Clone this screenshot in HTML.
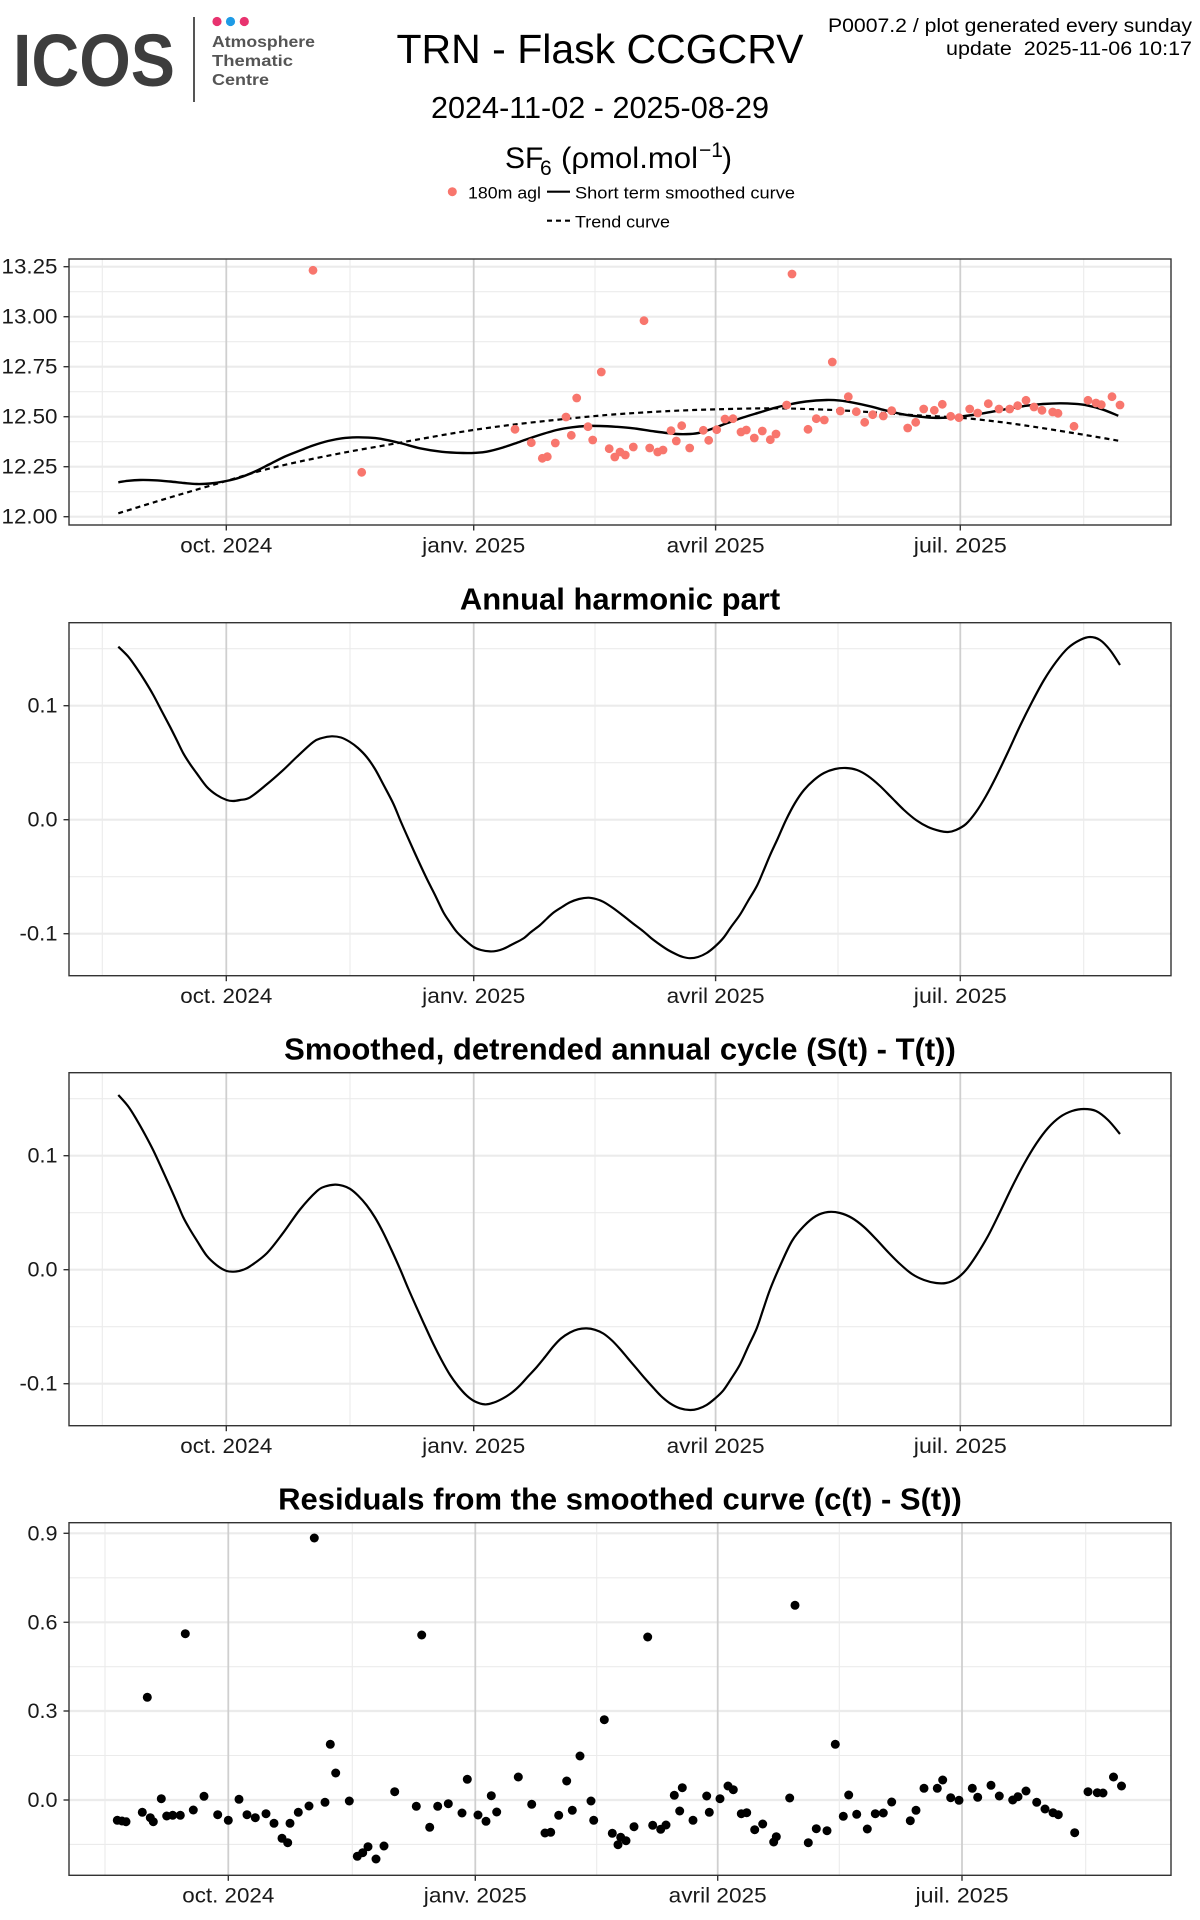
<!DOCTYPE html>
<html><head><meta charset="utf-8"><style>
html,body{margin:0;padding:0;background:#fff;}
svg{display:block;}
text{font-family:"Liberation Sans",Arial,sans-serif;}
</style></head><body>
<svg id="chart" width="1200" height="1920" viewBox="0 0 1200 1920" xmlns="http://www.w3.org/2000/svg">
<rect width="1200" height="1920" fill="#fff"/>
<!-- Header logo -->
<text x="13" y="86" font-size="74" font-weight="bold" fill="#3d3d3d" textLength="162" lengthAdjust="spacingAndGlyphs">ICOS</text>
<line x1="194" y1="17" x2="194" y2="102" stroke="#555" stroke-width="2"/>
<circle cx="217" cy="21.5" r="4.6" fill="#e8336f"/>
<circle cx="230.5" cy="21.5" r="4.6" fill="#1e9be6"/>
<circle cx="244.3" cy="21.5" r="4.6" fill="#e8336f"/>
<text x="212" y="47" font-size="16" font-weight="bold" fill="#555" textLength="103" lengthAdjust="spacingAndGlyphs">Atmosphere</text>
<text x="212" y="66" font-size="16" font-weight="bold" fill="#555" textLength="81" lengthAdjust="spacingAndGlyphs">Thematic</text>
<text x="212" y="85" font-size="16" font-weight="bold" fill="#555" textLength="57" lengthAdjust="spacingAndGlyphs">Centre</text>
<!-- Titles -->
<text x="600" y="63" font-size="41" text-anchor="middle" fill="#000" textLength="407" lengthAdjust="spacingAndGlyphs">TRN - Flask CCGCRV</text>
<text x="600" y="118" font-size="31" text-anchor="middle" fill="#000" textLength="338" lengthAdjust="spacingAndGlyphs">2024-11-02 - 2025-08-29</text>
<text x="505" y="168" font-size="30" fill="#000">SF</text>
<text x="540" y="175" font-size="21" fill="#000">6</text>
<text x="561" y="168" font-size="30" fill="#000" textLength="137" lengthAdjust="spacingAndGlyphs">(ρmol.mol</text>
<text x="699" y="157" font-size="21" fill="#000">−1</text>
<text x="722" y="168" font-size="30" fill="#000">)</text>
<text x="1192" y="32" font-size="19" text-anchor="end" fill="#000" textLength="364" lengthAdjust="spacingAndGlyphs">P0007.2 / plot generated every sunday</text>
<text x="1192" y="55" font-size="19" text-anchor="end" fill="#000" textLength="246" lengthAdjust="spacingAndGlyphs" xml:space="preserve">update  2025-11-06 10:17</text>
<!-- Legend -->
<circle cx="452.3" cy="191.7" r="4.5" fill="#F8766D"/>
<text x="468" y="198.3" font-size="17" fill="#000" textLength="73" lengthAdjust="spacingAndGlyphs">180m agl</text>
<line x1="547" y1="191.7" x2="570" y2="191.7" stroke="#000" stroke-width="2.2"/>
<text x="575" y="198.3" font-size="17" fill="#000" textLength="220" lengthAdjust="spacingAndGlyphs">Short term smoothed curve</text>
<line x1="547" y1="220.7" x2="570" y2="220.7" stroke="#000" stroke-width="2.2" stroke-dasharray="5 4"/>
<text x="575" y="227.5" font-size="17" fill="#000" textLength="95" lengthAdjust="spacingAndGlyphs">Trend curve</text>

<!-- ============ PANEL 1 ============ -->
<g>
<rect x="69" y="259" width="1102" height="266" fill="#fff"/>
<g stroke="#ebebeb" stroke-width="1.1">
<line x1="69" x2="1171" y1="491.7" y2="491.7"/><line x1="69" x2="1171" y1="441.7" y2="441.7"/><line x1="69" x2="1171" y1="391.7" y2="391.7"/><line x1="69" x2="1171" y1="341.7" y2="341.7"/><line x1="69" x2="1171" y1="291.7" y2="291.7"/>
<line x1="102.3" x2="102.3" y1="259" y2="525"/><line x1="350" x2="350" y1="259" y2="525"/><line x1="595" x2="595" y1="259" y2="525"/><line x1="838" x2="838" y1="259" y2="525"/><line x1="1083.7" x2="1083.7" y1="259" y2="525"/>
</g>
<g stroke="#ebebeb" stroke-width="2.2">
<line x1="69" x2="1171" y1="516.7" y2="516.7"/><line x1="69" x2="1171" y1="466.7" y2="466.7"/><line x1="69" x2="1171" y1="416.7" y2="416.7"/><line x1="69" x2="1171" y1="366.7" y2="366.7"/><line x1="69" x2="1171" y1="316.7" y2="316.7"/><line x1="69" x2="1171" y1="266.7" y2="266.7"/>
</g>
<g stroke="#cfcfcf" stroke-width="1.8">
<line x1="226.3" x2="226.3" y1="259" y2="525"/><line x1="473.7" x2="473.7" y1="259" y2="525"/><line x1="715.6" x2="715.6" y1="259" y2="525"/><line x1="960.3" x2="960.3" y1="259" y2="525"/>
</g>
<polyline class="smooth" fill="none" stroke="#000" stroke-width="2.2" stroke-dasharray="5 4" points="118.3,513.3 150,503.5 180,494.5 226.3,481 260,471 300,461.5 350,451.5 400,442.7 440,435.5 473.3,430 510,425 550,420.5 590,416.5 620,414 670,411 716.7,409.3 766.7,408.3 800,408.8 833.3,410 860,411.5 886.7,413.3 920,415.5 960,417.7 1000,422 1033.3,426.7 1070,432.5 1100,437.5 1118.3,440.7"/>
<polyline class="smooth" fill="none" stroke="#000" stroke-width="2.4" stroke-linejoin="round" points="118.3,482.3 128,480.8 140,480 155,480.3 170,481.5 184,483 196.7,484 210,483.5 226.3,481 240,477.5 255,471.5 270,464 285,456.5 300,450.5 313,445.5 328,441 342,438.3 356.7,437.3 368,437.6 380,438.7 400,443 420,448.3 442,451.8 463.3,453 476,452.8 486.7,451.7 503,447.5 520,441.7 538,435.5 556.7,430 572,427.3 586.7,426 600,426 616,426.8 633.3,428.3 655,431.5 676.7,434 690,434 700,432.7 713,428.5 726.7,423.3 743,417.5 760,412.3 773,408.3 786.7,405 806,401.5 826.7,400 840,400.6 853.3,402.7 870,406.3 886.7,410.7 903,414.3 920,416.7 933,417.8 946.7,417.7 965,416 983.3,413.3 1005,409.3 1026.7,405.7 1043,404 1060,403.3 1074,403.8 1086.7,405.3 1102,409.3 1118.3,415.7"/>
<g fill="#F8766D">
<circle cx="313" cy="270.3" r="4.4"/><circle cx="361.7" cy="472.3" r="4.4"/><circle cx="515" cy="429.3" r="4.4"/><circle cx="531.3" cy="442.7" r="4.4"/><circle cx="542.3" cy="458.3" r="4.4"/><circle cx="547.3" cy="456.7" r="4.4"/><circle cx="555.3" cy="443" r="4.4"/><circle cx="566" cy="417" r="4.4"/><circle cx="571.3" cy="435.3" r="4.4"/><circle cx="576.7" cy="398" r="4.4"/><circle cx="588" cy="426.7" r="4.4"/><circle cx="592.7" cy="440" r="4.4"/><circle cx="601.3" cy="372" r="4.4"/><circle cx="609.2" cy="448.7" r="4.4"/><circle cx="614.8" cy="457" r="4.4"/><circle cx="620" cy="452" r="4.4"/><circle cx="625.3" cy="455" r="4.4"/><circle cx="633.3" cy="447" r="4.4"/><circle cx="644" cy="320.7" r="4.4"/><circle cx="649.7" cy="448" r="4.4"/><circle cx="657.7" cy="452" r="4.4"/><circle cx="663" cy="450" r="4.4"/><circle cx="671" cy="430.7" r="4.4"/><circle cx="676.3" cy="441" r="4.4"/><circle cx="681.7" cy="425.7" r="4.4"/><circle cx="689.7" cy="448" r="4.4"/><circle cx="703.3" cy="430.3" r="4.4"/><circle cx="708.7" cy="440.3" r="4.4"/><circle cx="716.7" cy="429.7" r="4.4"/><circle cx="725" cy="419" r="4.4"/><circle cx="733" cy="418.7" r="4.4"/><circle cx="741" cy="432" r="4.4"/><circle cx="746.3" cy="430" r="4.4"/><circle cx="754.3" cy="438" r="4.4"/><circle cx="762.3" cy="431" r="4.4"/><circle cx="770.3" cy="439.7" r="4.4"/><circle cx="776" cy="434" r="4.4"/><circle cx="786.7" cy="405" r="4.4"/><circle cx="792" cy="274" r="4.4"/><circle cx="808" cy="429.3" r="4.4"/><circle cx="816.3" cy="418.7" r="4.4"/><circle cx="824.3" cy="420" r="4.4"/><circle cx="832.3" cy="362" r="4.4"/><circle cx="840.3" cy="411" r="4.4"/><circle cx="848.3" cy="396.7" r="4.4"/><circle cx="856.3" cy="411.7" r="4.4"/><circle cx="864.7" cy="422.3" r="4.4"/><circle cx="872.7" cy="414.7" r="4.4"/><circle cx="883.3" cy="416" r="4.4"/><circle cx="891.7" cy="410.7" r="4.4"/><circle cx="907.7" cy="428" r="4.4"/><circle cx="915.7" cy="422.3" r="4.4"/><circle cx="923.7" cy="409" r="4.4"/><circle cx="934.3" cy="410.3" r="4.4"/><circle cx="942.3" cy="404.3" r="4.4"/><circle cx="950.7" cy="416.3" r="4.4"/><circle cx="959" cy="417.7" r="4.4"/><circle cx="969.7" cy="409" r="4.4"/><circle cx="977.7" cy="413" r="4.4"/><circle cx="988.3" cy="403.7" r="4.4"/><circle cx="999" cy="409" r="4.4"/><circle cx="1009.7" cy="409" r="4.4"/><circle cx="1017.7" cy="405.7" r="4.4"/><circle cx="1026" cy="400.3" r="4.4"/><circle cx="1034" cy="407" r="4.4"/><circle cx="1042" cy="410.3" r="4.4"/><circle cx="1052.7" cy="412" r="4.4"/><circle cx="1058" cy="413.3" r="4.4"/><circle cx="1074" cy="426.3" r="4.4"/><circle cx="1088" cy="400.3" r="4.4"/><circle cx="1096" cy="403" r="4.4"/><circle cx="1101.3" cy="404.7" r="4.4"/><circle cx="1112" cy="396.7" r="4.4"/><circle cx="1120" cy="405" r="4.4"/>
</g>
<rect x="69" y="259" width="1102" height="266" fill="none" stroke="#333" stroke-width="1.4"/>
<g stroke="#333" stroke-width="1.4">
<line x1="63.5" x2="69" y1="516.7" y2="516.7"/><line x1="63.5" x2="69" y1="466.7" y2="466.7"/><line x1="63.5" x2="69" y1="416.7" y2="416.7"/><line x1="63.5" x2="69" y1="366.7" y2="366.7"/><line x1="63.5" x2="69" y1="316.7" y2="316.7"/><line x1="63.5" x2="69" y1="266.7" y2="266.7"/>
<line x1="226.3" x2="226.3" y1="525" y2="530.5"/><line x1="473.7" x2="473.7" y1="525" y2="530.5"/><line x1="715.6" x2="715.6" y1="525" y2="530.5"/><line x1="960.3" x2="960.3" y1="525" y2="530.5"/>
</g>
<g font-size="21" fill="#1a1a1a" text-anchor="end">
<text x="57.5" y="523.7" textLength="56" lengthAdjust="spacingAndGlyphs">12.00</text><text x="57.5" y="473.7" textLength="56" lengthAdjust="spacingAndGlyphs">12.25</text><text x="57.5" y="423.7" textLength="56" lengthAdjust="spacingAndGlyphs">12.50</text><text x="57.5" y="373.7" textLength="56" lengthAdjust="spacingAndGlyphs">12.75</text><text x="57.5" y="323.7" textLength="56" lengthAdjust="spacingAndGlyphs">13.00</text><text x="57.5" y="273.7" textLength="56" lengthAdjust="spacingAndGlyphs">13.25</text>
</g>
<g font-size="21" fill="#1a1a1a" text-anchor="middle">
<text x="226.3" y="552.5" textLength="92" lengthAdjust="spacingAndGlyphs">oct. 2024</text><text x="473.7" y="552.5" textLength="103" lengthAdjust="spacingAndGlyphs">janv. 2025</text><text x="715.6" y="552.5" textLength="98" lengthAdjust="spacingAndGlyphs">avril 2025</text><text x="960.3" y="552.5" textLength="93" lengthAdjust="spacingAndGlyphs">juil. 2025</text>
</g>
</g>

<!-- ============ PANEL 2 ============ -->
<text x="620" y="609.5" font-size="31" font-weight="bold" text-anchor="middle" fill="#000">Annual harmonic part</text>
<g>
<g stroke="#ebebeb" stroke-width="1.1">
<line x1="69" x2="1171" y1="648.7" y2="648.7"/><line x1="69" x2="1171" y1="762.7" y2="762.7"/><line x1="69" x2="1171" y1="876.7" y2="876.7"/>
<line x1="102.3" x2="102.3" y1="622.7" y2="975.7"/><line x1="350" x2="350" y1="622.7" y2="975.7"/><line x1="595" x2="595" y1="622.7" y2="975.7"/><line x1="838" x2="838" y1="622.7" y2="975.7"/><line x1="1083.7" x2="1083.7" y1="622.7" y2="975.7"/>
</g>
<g stroke="#ebebeb" stroke-width="2.2">
<line x1="69" x2="1171" y1="705.7" y2="705.7"/><line x1="69" x2="1171" y1="819.7" y2="819.7"/><line x1="69" x2="1171" y1="933.7" y2="933.7"/>
</g>
<g stroke="#cfcfcf" stroke-width="1.8">
<line x1="226.3" x2="226.3" y1="622.7" y2="975.7"/><line x1="473.7" x2="473.7" y1="622.7" y2="975.7"/><line x1="715.6" x2="715.6" y1="622.7" y2="975.7"/><line x1="960.3" x2="960.3" y1="622.7" y2="975.7"/>
</g>
<polyline class="smooth" fill="none" stroke="#000" stroke-width="2.2" stroke-linejoin="round" points="118.3,646.7 128.3,656.7 136.7,668.3 145,681 153.3,695 161.7,711 170,726.7 176.7,740 183.3,753.3 190,764 196.7,773.3 206.7,786.7 216.7,795 226.7,800 233,801 240,800 250,797.4 266.7,784.4 283.3,769.9 296.7,757 313.3,742 322,738 331.7,736.3 341,737.5 350,742 358,748 366.7,757 375,769 383.3,784.4 393.3,803.6 401,822 410,842.3 418,860 426.7,878.5 435,895 443.3,912.1 450,922.5 456.7,931.8 465,940 473.3,946.8 481,950 490,951.4 497,950.8 503.3,948.9 513,944 523.3,938.5 531,932 540,925.1 547,918.5 553.3,912.7 562,907 570,902.3 579,899 588.3,897.7 596,899 603.3,901.8 613,908 623.3,915.8 633,923.5 643.3,931.3 651,938 660,944.7 668,950 676.7,954.5 683,957 690,958.2 698,957 706.7,953 715,946.5 723.3,938 731,927 740,914.7 748,901 756.7,886.3 763,872 770,855.3 778,838 786,820 795,803 804,790 814,780 824,773 835,769 846,768 857,770 868,776 880,786 892,798 904,810 916,820 928,827 940,831 948,832 956,830 966,824 976,812 986,796 996,777 1008,752 1020,726 1032,702 1044,680 1056,662 1068,648 1080,640 1090,637 1100,640 1110,650 1120,665"/>
<rect x="69" y="622.7" width="1102" height="353" fill="none" stroke="#333" stroke-width="1.4"/>
<g stroke="#333" stroke-width="1.4">
<line x1="63.5" x2="69" y1="705.7" y2="705.7"/><line x1="63.5" x2="69" y1="819.7" y2="819.7"/><line x1="63.5" x2="69" y1="933.7" y2="933.7"/>
<line x1="226.3" x2="226.3" y1="975.7" y2="981.2"/><line x1="473.7" x2="473.7" y1="975.7" y2="981.2"/><line x1="715.6" x2="715.6" y1="975.7" y2="981.2"/><line x1="960.3" x2="960.3" y1="975.7" y2="981.2"/>
</g>
<g font-size="21" fill="#1a1a1a" text-anchor="end">
<text x="57.5" y="712.7" textLength="30" lengthAdjust="spacingAndGlyphs">0.1</text><text x="57.5" y="826.7" textLength="30" lengthAdjust="spacingAndGlyphs">0.0</text><text x="57.5" y="940.7" textLength="38" lengthAdjust="spacingAndGlyphs">-0.1</text>
</g>
<g font-size="21" fill="#1a1a1a" text-anchor="middle">
<text x="226.3" y="1003" textLength="92" lengthAdjust="spacingAndGlyphs">oct. 2024</text><text x="473.7" y="1003" textLength="103" lengthAdjust="spacingAndGlyphs">janv. 2025</text><text x="715.6" y="1003" textLength="98" lengthAdjust="spacingAndGlyphs">avril 2025</text><text x="960.3" y="1003" textLength="93" lengthAdjust="spacingAndGlyphs">juil. 2025</text>
</g>
</g>

<!-- ============ PANEL 3 ============ -->
<text x="620" y="1059.5" font-size="31" font-weight="bold" text-anchor="middle" fill="#000">Smoothed, detrended annual cycle (S(t) - T(t))</text>
<g>
<g stroke="#ebebeb" stroke-width="1.1">
<line x1="69" x2="1171" y1="1098.7" y2="1098.7"/><line x1="69" x2="1171" y1="1212.7" y2="1212.7"/><line x1="69" x2="1171" y1="1326.7" y2="1326.7"/>
<line x1="102.3" x2="102.3" y1="1072.7" y2="1425.7"/><line x1="350" x2="350" y1="1072.7" y2="1425.7"/><line x1="595" x2="595" y1="1072.7" y2="1425.7"/><line x1="838" x2="838" y1="1072.7" y2="1425.7"/><line x1="1083.7" x2="1083.7" y1="1072.7" y2="1425.7"/>
</g>
<g stroke="#ebebeb" stroke-width="2.2">
<line x1="69" x2="1171" y1="1155.7" y2="1155.7"/><line x1="69" x2="1171" y1="1269.7" y2="1269.7"/><line x1="69" x2="1171" y1="1383.7" y2="1383.7"/>
</g>
<g stroke="#cfcfcf" stroke-width="1.8">
<line x1="226.3" x2="226.3" y1="1072.7" y2="1425.7"/><line x1="473.7" x2="473.7" y1="1072.7" y2="1425.7"/><line x1="715.6" x2="715.6" y1="1072.7" y2="1425.7"/><line x1="960.3" x2="960.3" y1="1072.7" y2="1425.7"/>
</g>
<polyline class="smooth" fill="none" stroke="#000" stroke-width="2.2" stroke-linejoin="round" points="118.3,1095 128.3,1106.5 136.7,1119.8 145,1134.5 153.3,1150.4 161.7,1168.5 170,1186.8 176.7,1202 183.3,1217.4 190,1229.5 196.7,1240.3 206.7,1255.7 216.7,1265.2 226.7,1271 236,1271.5 243,1269.8 250,1266.3 266.7,1253.4 283.3,1232.7 300,1209.5 316.7,1191.3 325,1186.5 335,1184.6 343,1185.8 350,1188.8 358,1195.5 366.7,1205.3 375,1217.5 383.3,1232.7 391.5,1250 400,1268.9 408,1288 416.7,1307.7 425,1326 433.3,1343.9 441.5,1360 450,1374.9 458,1386 466.7,1395.6 475,1401.5 485,1404.4 494,1402.5 503.3,1398.2 512,1392.5 520,1385.3 528,1376.5 536.7,1367.1 545,1357 553.3,1346.5 561,1338.5 570,1332.5 578,1329.3 586.7,1328.4 595,1329.8 603.3,1333.5 612,1340.5 620,1349 628,1358.5 636.7,1368.7 645,1378.5 653.3,1387.8 661,1396 670,1403.3 680,1408.3 690,1410 698,1408.8 706.7,1404.9 715,1398.5 723.3,1390.4 731,1379 740,1364.5 748,1347 756.7,1328.4 763,1310 770,1289.6 780,1266 792,1241 804,1226 816,1216 828,1212 840,1213 852,1218 864,1227 876,1239 888,1252 900,1264 912,1274 924,1280 936,1283 946,1283 956,1279 966,1270 976,1256 988,1236 1000,1212 1012,1187 1024,1164 1036,1144 1048,1128 1060,1117 1072,1111 1084,1109 1096,1111 1108,1120 1120,1134"/>
<rect x="69" y="1072.7" width="1102" height="353" fill="none" stroke="#333" stroke-width="1.4"/>
<g stroke="#333" stroke-width="1.4">
<line x1="63.5" x2="69" y1="1155.7" y2="1155.7"/><line x1="63.5" x2="69" y1="1269.7" y2="1269.7"/><line x1="63.5" x2="69" y1="1383.7" y2="1383.7"/>
<line x1="226.3" x2="226.3" y1="1425.7" y2="1431.2"/><line x1="473.7" x2="473.7" y1="1425.7" y2="1431.2"/><line x1="715.6" x2="715.6" y1="1425.7" y2="1431.2"/><line x1="960.3" x2="960.3" y1="1425.7" y2="1431.2"/>
</g>
<g font-size="21" fill="#1a1a1a" text-anchor="end">
<text x="57.5" y="1162.7" textLength="30" lengthAdjust="spacingAndGlyphs">0.1</text><text x="57.5" y="1276.7" textLength="30" lengthAdjust="spacingAndGlyphs">0.0</text><text x="57.5" y="1390.7" textLength="38" lengthAdjust="spacingAndGlyphs">-0.1</text>
</g>
<g font-size="21" fill="#1a1a1a" text-anchor="middle">
<text x="226.3" y="1453" textLength="92" lengthAdjust="spacingAndGlyphs">oct. 2024</text><text x="473.7" y="1453" textLength="103" lengthAdjust="spacingAndGlyphs">janv. 2025</text><text x="715.6" y="1453" textLength="98" lengthAdjust="spacingAndGlyphs">avril 2025</text><text x="960.3" y="1453" textLength="93" lengthAdjust="spacingAndGlyphs">juil. 2025</text>
</g>
</g>

<!-- ============ PANEL 4 ============ -->
<text x="620" y="1509.5" font-size="31" font-weight="bold" text-anchor="middle" fill="#000">Residuals from the smoothed curve (c(t) - S(t))</text>
<g>
<g stroke="#ebebeb" stroke-width="1.1">
<line x1="69" x2="1171" y1="1577.8" y2="1577.8"/><line x1="69" x2="1171" y1="1666.7" y2="1666.7"/><line x1="69" x2="1171" y1="1755.5" y2="1755.5"/><line x1="69" x2="1171" y1="1844.4" y2="1844.4"/>
<line x1="105" x2="105" y1="1522.7" y2="1875.3"/><line x1="352.3" x2="352.3" y1="1522.7" y2="1875.3"/><line x1="596.7" x2="596.7" y1="1522.7" y2="1875.3"/><line x1="839.3" x2="839.3" y1="1522.7" y2="1875.3"/><line x1="1085.7" x2="1085.7" y1="1522.7" y2="1875.3"/>
</g>
<g stroke="#ebebeb" stroke-width="2.2">
<line x1="69" x2="1171" y1="1533.3" y2="1533.3"/><line x1="69" x2="1171" y1="1622.3" y2="1622.3"/><line x1="69" x2="1171" y1="1711" y2="1711"/><line x1="69" x2="1171" y1="1800" y2="1800"/>
</g>
<g stroke="#cfcfcf" stroke-width="1.8">
<line x1="228.3" x2="228.3" y1="1522.7" y2="1875.3"/><line x1="475.3" x2="475.3" y1="1522.7" y2="1875.3"/><line x1="717.7" x2="717.7" y1="1522.7" y2="1875.3"/><line x1="962" x2="962" y1="1522.7" y2="1875.3"/>
</g>
<g fill="#000">
<circle cx="117.3" cy="1820.3" r="4.5"/><circle cx="122" cy="1821" r="4.5"/><circle cx="126" cy="1821.7" r="4.5"/><circle cx="142.3" cy="1812.3" r="4.5"/><circle cx="147.3" cy="1697.3" r="4.5"/><circle cx="150.3" cy="1817.7" r="4.5"/><circle cx="153.3" cy="1821.7" r="4.5"/><circle cx="161.3" cy="1798.7" r="4.5"/><circle cx="166.7" cy="1816" r="4.5"/><circle cx="172.7" cy="1815.3" r="4.5"/><circle cx="180.3" cy="1815.3" r="4.5"/><circle cx="185.3" cy="1633.7" r="4.5"/><circle cx="193.3" cy="1810" r="4.5"/><circle cx="204" cy="1796.3" r="4.5"/><circle cx="217.7" cy="1814.7" r="4.5"/><circle cx="228.3" cy="1820.3" r="4.5"/><circle cx="239" cy="1799.3" r="4.5"/><circle cx="247" cy="1814.7" r="4.5"/><circle cx="255.3" cy="1817.7" r="4.5"/><circle cx="266" cy="1813.7" r="4.5"/><circle cx="274" cy="1823.3" r="4.5"/><circle cx="282" cy="1838.3" r="4.5"/><circle cx="287.7" cy="1842.7" r="4.5"/><circle cx="290" cy="1823.3" r="4.5"/><circle cx="298.3" cy="1812.3" r="4.5"/><circle cx="309" cy="1806" r="4.5"/><circle cx="314.3" cy="1538" r="4.5"/><circle cx="325" cy="1802.3" r="4.5"/><circle cx="330.3" cy="1744.3" r="4.5"/><circle cx="335.7" cy="1773" r="4.5"/><circle cx="349.3" cy="1801" r="4.5"/><circle cx="357.3" cy="1856.3" r="4.5"/><circle cx="362.7" cy="1852.7" r="4.5"/><circle cx="368" cy="1846.7" r="4.5"/><circle cx="376" cy="1859" r="4.5"/><circle cx="384" cy="1846" r="4.5"/><circle cx="394.7" cy="1791.7" r="4.5"/><circle cx="416.3" cy="1806.3" r="4.5"/><circle cx="421.7" cy="1635" r="4.5"/><circle cx="429.7" cy="1827.3" r="4.5"/><circle cx="437.7" cy="1806.3" r="4.5"/><circle cx="448.3" cy="1803.7" r="4.5"/><circle cx="462" cy="1813" r="4.5"/><circle cx="467.3" cy="1779.3" r="4.5"/><circle cx="478" cy="1815" r="4.5"/><circle cx="486" cy="1821.3" r="4.5"/><circle cx="491.3" cy="1795.7" r="4.5"/><circle cx="496.7" cy="1812" r="4.5"/><circle cx="518.3" cy="1777" r="4.5"/><circle cx="531.7" cy="1804.3" r="4.5"/><circle cx="545" cy="1833" r="4.5"/><circle cx="550.7" cy="1832.3" r="4.5"/><circle cx="558.7" cy="1815.3" r="4.5"/><circle cx="566.7" cy="1781" r="4.5"/><circle cx="572.3" cy="1810.3" r="4.5"/><circle cx="580" cy="1756" r="4.5"/><circle cx="591" cy="1801" r="4.5"/><circle cx="593.7" cy="1820.3" r="4.5"/><circle cx="604.3" cy="1719.7" r="4.5"/><circle cx="612.3" cy="1833.3" r="4.5"/><circle cx="618" cy="1844.7" r="4.5"/><circle cx="620.7" cy="1837.3" r="4.5"/><circle cx="626" cy="1840.7" r="4.5"/><circle cx="634" cy="1826.7" r="4.5"/><circle cx="647.7" cy="1637" r="4.5"/><circle cx="652.7" cy="1825.3" r="4.5"/><circle cx="660.7" cy="1829.3" r="4.5"/><circle cx="666" cy="1825" r="4.5"/><circle cx="674.3" cy="1795.3" r="4.5"/><circle cx="679.7" cy="1811" r="4.5"/><circle cx="682.3" cy="1787.7" r="4.5"/><circle cx="693" cy="1820.3" r="4.5"/><circle cx="706.7" cy="1796" r="4.5"/><circle cx="709.3" cy="1812.3" r="4.5"/><circle cx="720" cy="1798.7" r="4.5"/><circle cx="728" cy="1786" r="4.5"/><circle cx="733.3" cy="1789.7" r="4.5"/><circle cx="741.3" cy="1813.7" r="4.5"/><circle cx="746.7" cy="1812.7" r="4.5"/><circle cx="754.7" cy="1829.7" r="4.5"/><circle cx="762.7" cy="1824" r="4.5"/><circle cx="773.7" cy="1842" r="4.5"/><circle cx="776.3" cy="1836.7" r="4.5"/><circle cx="789.7" cy="1798" r="4.5"/><circle cx="795" cy="1605.3" r="4.5"/><circle cx="808.3" cy="1842.7" r="4.5"/><circle cx="816.3" cy="1828.7" r="4.5"/><circle cx="827" cy="1830.7" r="4.5"/><circle cx="835.3" cy="1744.3" r="4.5"/><circle cx="843.3" cy="1816.3" r="4.5"/><circle cx="848.7" cy="1795" r="4.5"/><circle cx="856.7" cy="1814.3" r="4.5"/><circle cx="867.3" cy="1829" r="4.5"/><circle cx="875.3" cy="1813.7" r="4.5"/><circle cx="883.3" cy="1813" r="4.5"/><circle cx="891.7" cy="1802" r="4.5"/><circle cx="910.3" cy="1820.7" r="4.5"/><circle cx="916" cy="1810.3" r="4.5"/><circle cx="924" cy="1788.3" r="4.5"/><circle cx="937.3" cy="1788.3" r="4.5"/><circle cx="942.7" cy="1780" r="4.5"/><circle cx="950.7" cy="1797.7" r="4.5"/><circle cx="959" cy="1800.3" r="4.5"/><circle cx="972.3" cy="1788.3" r="4.5"/><circle cx="977.7" cy="1797.3" r="4.5"/><circle cx="991" cy="1785.3" r="4.5"/><circle cx="999.3" cy="1796" r="4.5"/><circle cx="1012.7" cy="1800" r="4.5"/><circle cx="1018" cy="1796.7" r="4.5"/><circle cx="1026" cy="1791" r="4.5"/><circle cx="1036.7" cy="1802.3" r="4.5"/><circle cx="1045" cy="1809" r="4.5"/><circle cx="1053" cy="1812.7" r="4.5"/><circle cx="1058.3" cy="1814.7" r="4.5"/><circle cx="1074.7" cy="1832.7" r="4.5"/><circle cx="1088" cy="1791.7" r="4.5"/><circle cx="1097.3" cy="1792.7" r="4.5"/><circle cx="1103" cy="1793" r="4.5"/><circle cx="1113.5" cy="1777" r="4.5"/><circle cx="1121.5" cy="1786" r="4.5"/>
</g>
<rect x="69" y="1522.7" width="1102" height="352.6" fill="none" stroke="#333" stroke-width="1.4"/>
<g stroke="#333" stroke-width="1.4">
<line x1="63.5" x2="69" y1="1533.3" y2="1533.3"/><line x1="63.5" x2="69" y1="1622.3" y2="1622.3"/><line x1="63.5" x2="69" y1="1711" y2="1711"/><line x1="63.5" x2="69" y1="1800" y2="1800"/>
<line x1="228.3" x2="228.3" y1="1875.3" y2="1880.8"/><line x1="475.3" x2="475.3" y1="1875.3" y2="1880.8"/><line x1="717.7" x2="717.7" y1="1875.3" y2="1880.8"/><line x1="962" x2="962" y1="1875.3" y2="1880.8"/>
</g>
<g font-size="21" fill="#1a1a1a" text-anchor="end">
<text x="57.5" y="1540.3" textLength="30" lengthAdjust="spacingAndGlyphs">0.9</text><text x="57.5" y="1629.3" textLength="30" lengthAdjust="spacingAndGlyphs">0.6</text><text x="57.5" y="1718" textLength="30" lengthAdjust="spacingAndGlyphs">0.3</text><text x="57.5" y="1807" textLength="30" lengthAdjust="spacingAndGlyphs">0.0</text>
</g>
<g font-size="21" fill="#1a1a1a" text-anchor="middle">
<text x="228.3" y="1902.5" textLength="92" lengthAdjust="spacingAndGlyphs">oct. 2024</text><text x="475.3" y="1902.5" textLength="103" lengthAdjust="spacingAndGlyphs">janv. 2025</text><text x="717.7" y="1902.5" textLength="98" lengthAdjust="spacingAndGlyphs">avril 2025</text><text x="962" y="1902.5" textLength="93" lengthAdjust="spacingAndGlyphs">juil. 2025</text>
</g>
</g>
</svg>
<script>
(function(){
  try{
    var ns="http://www.w3.org/2000/svg";
    var pls=document.querySelectorAll("polyline.smooth");
    for(var i=0;i<pls.length;i++){
      var pl=pls[i];
      var raw=pl.getAttribute("points").trim().split(/\s+/);
      var p=[];
      for(var j=0;j<raw.length;j++){var xy=raw[j].split(",");p.push([parseFloat(xy[0]),parseFloat(xy[1])]);}
      var d="M"+p[0][0]+","+p[0][1];
      for(var k=0;k<p.length-1;k++){
        var p0=p[k>0?k-1:0],p1=p[k],p2=p[k+1],p3=p[k+2<p.length?k+2:p.length-1];
        var c1x=p1[0]+(p2[0]-p0[0])/6,c1y=p1[1]+(p2[1]-p0[1])/6;
        var c2x=p2[0]-(p3[0]-p1[0])/6,c2y=p2[1]-(p3[1]-p1[1])/6;
        d+=" C"+c1x.toFixed(2)+","+c1y.toFixed(2)+" "+c2x.toFixed(2)+","+c2y.toFixed(2)+" "+p2[0]+","+p2[1];
      }
      var path=document.createElementNS(ns,"path");
      path.setAttribute("d",d);
      var attrs=["fill","stroke","stroke-width","stroke-dasharray","stroke-linejoin"];
      for(var a=0;a<attrs.length;a++){var v=pl.getAttribute(attrs[a]);if(v)path.setAttribute(attrs[a],v);}
      path.setAttribute("stroke-linecap","butt");
      pl.parentNode.replaceChild(path,pl);
    }
  }catch(e){}
})();
</script>
</body></html>
